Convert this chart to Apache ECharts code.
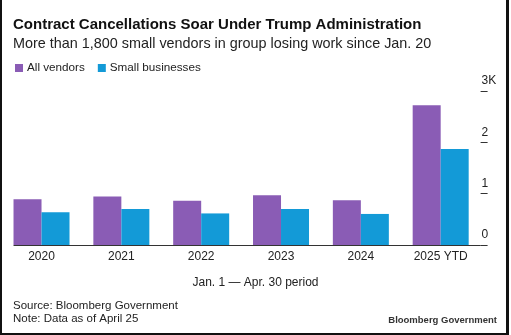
<!DOCTYPE html>
<html><head><meta charset="utf-8">
<script src="https://cdn.jsdelivr.net/npm/echarts@6/dist/echarts.min.js"></script>
<style>html,body{margin:0;padding:0;background:#fff}#c{width:511px;height:335px}</style>
</head><body><div id="c"></div>
<script>
const categories = ['2020','2021','2022','2023','2024','2025 YTD'];
const allVendors = [890, 945, 860, 970, 870, 2720];
const smallBusinesses = [640, 700, 615, 700, 605, 1870];
const yTickLabels = {0:'0',1000:'1',2000:'2',3000:'3K'};

const FONT = 'Liberation Sans';
const chart = echarts.init(document.getElementById('c'), null, {renderer:'canvas'});
const option = {
  backgroundColor:'#fff',
  animation:false,
  textStyle:{fontFamily:FONT},
  title:[
    {text:'Contract Cancellations Soar Under Trump Administration', left:13, top:17, padding:0,
     textStyle:{fontFamily:FONT, fontSize:15, fontWeight:'bold', color:'#111'}},
    {text:'More than 1,800 small vendors in group losing work since Jan. 20', left:13, top:37, padding:0,
     textStyle:{fontFamily:FONT, fontSize:14.4, fontWeight:'normal', color:'#222'}},
    {text:'Jan. 1 \u2014 Apr. 30 period', left:'center', top:277, padding:0,
     textStyle:{fontFamily:FONT, fontSize:12, fontWeight:'normal', color:'#222'}},
    {text:'Source: Bloomberg Government\nNote: Data as of April 25', left:13, top:299, padding:0,
     textStyle:{fontFamily:FONT, fontSize:11.5, fontWeight:'normal', color:'#222', lineHeight:13}},
    {text:'Bloomberg Government', right:14, top:315, padding:0,
     textStyle:{fontFamily:FONT, fontSize:9.5, fontWeight:'bold', color:'#333'}}
  ],
  legend:{
    left:15, top:62, padding:0, itemWidth:8, itemHeight:8, itemGap:13, icon:'rect',
    textStyle:{fontFamily:FONT, fontSize:11.7, color:'#222', padding:[0,0,0,-1]},
    data:['All vendors','Small businesses']
  },
  grid:{left:1.6, right:30.4, top:91, bottom:90, containLabel:false},
  xAxis:{
    type:'category', data:categories,
    axisLine:{show:false}, axisTick:{show:false},
    axisLabel:{fontFamily:FONT, fontSize:12, color:'#222', margin:6}
  },
  yAxis:{
    type:'value', position:'right', min:0, max:3000, interval:1000,
    splitLine:{show:false}, axisLine:{show:false},
    axisTick:{show:true, length:7, lineStyle:{color:'#333', width:1}},
    axisLabel:{fontFamily:FONT, fontSize:12, color:'#222', margin:1, align:'left', verticalAlign:'bottom',
      padding:[0,0,4,0], formatter:v=>yTickLabels[v]}
  },
  series:[
    {name:'All vendors', type:'bar', data:allVendors, barWidth:28, barGap:'0%', itemStyle:{color:'#8a5cb5'}},
    {name:'Small businesses', type:'bar', data:smallBusinesses, barWidth:28, barGap:'0%', itemStyle:{color:'#139ad7'}}
  ]
};
chart.setOption(option);
const y0 = chart.convertToPixel({yAxisIndex:0}, 0);
const xL = chart.convertToPixel({xAxisIndex:0}, categories[0]) - 28;
const xR = chart.convertToPixel({xAxisIndex:0}, categories[categories.length-1]) + 40;
chart.setOption({graphic:[
  {type:'line', shape:{x1:xL, y1:y0+0.5, x2:xR, y2:y0+0.5}, style:{stroke:'#333', lineWidth:1}, z:10},
  {type:'rect', shape:{x:0, y:0, width:2, height:335}, style:{fill:'#111'}},
  {type:'rect', shape:{x:506, y:0, width:3, height:335}, style:{fill:'#111'}},
  {type:'rect', shape:{x:0, y:333, width:509, height:2}, style:{fill:'#111'}}
]});
</script></body></html>
